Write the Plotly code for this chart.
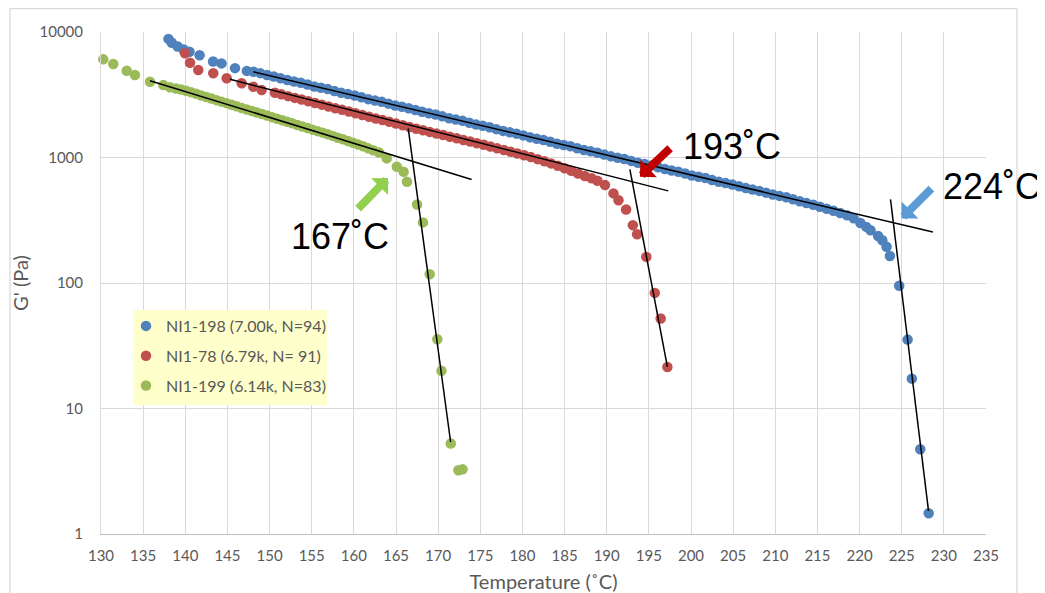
import numpy as np
import plotly.graph_objects as go

# ---------------- data (G' stored as log10 values) ----------------
blue_name = "NI1-198 (7.00k, N=94)"
red_name = "NI1-78 (6.79k, N= 91)"
green_name = "NI1-199 (6.14k, N=83)"

blue_temp = [138.0, 138.4, 139.1, 139.8, 140.5, 141.7, 143.3, 144.3, 145.9, 147.3,
             148.1, 148.9, 149.7, 150.5, 151.3, 152.1, 152.9, 153.7, 154.5, 155.3,
             156.1, 156.9, 157.7, 158.5, 159.3, 160.1, 160.9, 161.7, 162.5, 163.3,
             164.1, 164.9, 165.7, 166.5, 167.3, 168.1, 168.9, 169.7, 170.5, 171.3,
             172.1, 172.9, 173.7, 174.5, 175.3, 176.1, 176.9, 177.7, 178.5, 179.3,
             180.1, 180.9, 181.7, 182.5, 183.3, 184.1, 184.9, 185.7, 186.5, 187.3,
             188.1, 188.9, 189.7, 190.5, 191.3, 192.1, 192.9, 193.7, 194.5, 195.3,
             196.1, 196.9, 197.7, 198.5, 199.3, 200.1, 200.9, 201.7, 202.5, 203.3,
             204.1, 204.9, 205.7, 206.5, 207.3, 208.1, 208.9, 209.7, 210.5, 211.3,
             212.1, 212.9, 213.7, 214.5, 215.3, 216.1, 216.9, 217.7, 218.5,
             219.3, 220.1, 220.8, 221.3, 222.2, 222.7, 223.2, 223.6, 224.7, 225.7,
             226.2, 227.2, 228.2]
blue_logG = [3.945, 3.915, 3.885, 3.860, 3.843, 3.815, 3.765, 3.750, 3.712, 3.690,
             3.683, 3.672, 3.657, 3.645, 3.632, 3.617, 3.606, 3.596, 3.581, 3.566,
             3.556, 3.545, 3.530, 3.516, 3.505, 3.494, 3.480, 3.465, 3.454, 3.444,
             3.429, 3.414, 3.404, 3.393, 3.378, 3.364, 3.353, 3.342, 3.328, 3.313,
             3.302, 3.292, 3.277, 3.262, 3.252, 3.241, 3.226, 3.212, 3.201, 3.190,
             3.176, 3.161, 3.150, 3.140, 3.125, 3.110, 3.100, 3.089, 3.074, 3.060,
             3.049, 3.038, 3.024, 3.009, 2.998, 2.988, 2.973, 2.958, 2.948, 2.937,
             2.922, 2.908, 2.897, 2.886, 2.872, 2.857, 2.846, 2.836, 2.821, 2.806,
             2.796, 2.785, 2.770, 2.756, 2.745, 2.734, 2.720, 2.705, 2.694, 2.683,
             2.668, 2.652, 2.638, 2.623, 2.607, 2.592, 2.576, 2.558, 2.540,
             2.515, 2.478, 2.447, 2.420, 2.375, 2.340, 2.289, 2.215, 1.978, 1.549,
             1.238, 0.675, 0.165]

red_temp = [139.96, 140.56, 141.54, 143.32, 144.91, 146.69, 148.07, 149.06, 150.64,
            151.4, 152.2, 153.0, 153.8, 154.6, 155.4, 156.2, 157.0, 157.8, 158.6,
            159.4, 160.2, 161.0, 161.8, 162.6, 163.4, 164.2, 165.0, 165.8, 166.6,
            167.4, 168.2, 169.0, 169.8, 170.6, 171.4, 172.2, 173.0, 173.8, 174.6,
            175.4, 176.2, 177.0, 177.8, 178.6, 179.4, 180.2, 181.0, 181.8, 182.6,
            183.4, 184.2, 185.0, 185.8, 186.6, 187.4,
            188.2, 188.9, 189.8, 190.8, 191.4, 192.3, 193.1, 193.6, 194.7, 195.7,
            196.4, 197.2]
red_logG = [3.830, 3.755, 3.697, 3.671, 3.631, 3.591, 3.564, 3.537, 3.516,
            3.503, 3.489, 3.475, 3.462, 3.448, 3.434, 3.421, 3.407, 3.393, 3.380,
            3.366, 3.352, 3.339, 3.325, 3.311, 3.298, 3.284, 3.270, 3.257, 3.243,
            3.229, 3.217, 3.204, 3.191, 3.179, 3.166, 3.153, 3.140, 3.127, 3.114,
            3.101, 3.087, 3.073, 3.060, 3.046, 3.032, 3.018, 3.003, 2.987, 2.970,
            2.953, 2.934, 2.914, 2.894, 2.873, 2.853,
            2.835, 2.815, 2.780, 2.714, 2.660, 2.586, 2.461, 2.389, 2.208, 1.921,
            1.717, 1.331]

green_temp = [130.27, 131.46, 133.05, 134.03, 135.81, 137.39, 138.18,
              138.9, 139.5, 140.1, 140.7, 141.3, 141.9, 142.5, 143.1, 143.7, 144.3,
              144.9, 145.5, 146.1, 146.7, 147.3, 147.9, 148.5, 149.1, 149.7, 150.3,
              150.9, 151.5, 152.1, 152.7, 153.3, 153.9, 154.5, 155.1, 155.7, 156.3,
              156.9, 157.5, 158.1, 158.7, 159.3, 159.9, 160.5, 161.1, 161.7, 162.3,
              163.0, 163.9, 165.1, 165.9, 166.3, 167.5, 168.2, 169.0, 169.9, 170.4,
              171.5, 172.4, 172.9]
green_logG = [3.782, 3.745, 3.691, 3.657, 3.604, 3.577, 3.560,
              3.550, 3.542, 3.531, 3.519, 3.507, 3.494, 3.482, 3.470, 3.457, 3.445,
              3.433, 3.420, 3.408, 3.395, 3.383, 3.371, 3.358, 3.346, 3.334, 3.321,
              3.309, 3.297, 3.284, 3.272, 3.259, 3.247, 3.235, 3.222, 3.210, 3.198,
              3.185, 3.172, 3.158, 3.145, 3.132, 3.118, 3.104, 3.089, 3.073, 3.058,
              3.040, 2.993, 2.926, 2.886, 2.807, 2.626, 2.483, 2.070, 1.552, 1.300,
              0.721, 0.508, 0.515]

# tangent (onset) construction lines: [start, end]
blue_flat_T, blue_flat_logG = [148.07, 228.7], [3.683, 2.407]
blue_steep_T, blue_steep_logG = [223.67, 228.18], [2.666, 0.183]
red_flat_T, red_flat_logG = [145.3, 197.3], [3.623, 2.734]
red_steep_T, red_steep_logG = [192.75, 197.2], [2.905, 1.331]
green_flat_T, green_flat_logG = [135.81, 173.97], [3.612, 2.825]
green_steep_T, green_steep_logG = [166.45, 171.48], [3.232, 0.733]

onset_labels = ["167˚C", "193˚C", "224˚C"]

x_ticks = list(range(130, 236, 5))
y_ticks = [1, 10, 100, 1000, 10000]

# ---------------- figure ----------------
BLUE, RED, GREEN = "#4F81BD", "#C0504D", "#9BBB59"
GRAY_TXT = "#595959"
GRID = "#d9d9d9"
FONT = "Lato"

# the page body adds an 8px offset, so the figure is 8px smaller than the window
W, H = 1037, 585
L, R, T, B = 93, 59, 24, 59
pw, ph = W - L - R, H - T - B
PLOT_LEFT_REF, PLOT_BOTTOM_REF = 101, 534   # plot area position in the reference picture


def px_x(p):
    return (p - PLOT_LEFT_REF) / pw


def px_y(p):
    return (PLOT_BOTTOM_REF - p) / ph


fig = go.Figure()

for name, t, lg, col in [(blue_name, blue_temp, blue_logG, BLUE),
                         (red_name, red_temp, red_logG, RED),
                         (green_name, green_temp, green_logG, GREEN)]:
    fig.add_trace(go.Scatter(
        x=t, y=np.power(10.0, lg), mode="markers", name=name, legendgroup=name,
        marker=dict(color=col, size=10.5, line=dict(width=0)), cliponaxis=False))

for t, lg in [(blue_flat_T, blue_flat_logG), (blue_steep_T, blue_steep_logG),
              (red_flat_T, red_flat_logG), (red_steep_T, red_steep_logG),
              (green_flat_T, green_flat_logG), (green_steep_T, green_steep_logG)]:
    fig.add_trace(go.Scatter(x=t, y=np.power(10.0, lg), mode="lines",
                             line=dict(color="black", width=1.5), showlegend=False,
                             hoverinfo="skip"))

# arrows (tip x,y ; tail ax,ay) in data coords (log10 for y)
arrows = [
    (164.05, 2.836, 160.33, 2.581, "#92D050"),
    (193.94, 2.846, 197.70, 3.085, "#C00000"),
    (224.98, 2.514, 228.69, 2.764, "#5B9BD5"),
]
for x, y, ax, ay, col in arrows:
    fig.add_annotation(x=x, y=y, ax=ax, ay=ay, xref="x", yref="y", axref="x", ayref="y",
                       text="", showarrow=True, arrowhead=1, arrowsize=0.5,
                       arrowwidth=8, arrowcolor=col)

# onset labels, positioned on the paper (the last one sits beyond the x range)
label_px = [(340, 236), (732, 146), (992, 187)]
for (px, py), txt in zip(label_px, onset_labels):
    fig.add_annotation(x=px_x(px), y=px_y(py), xref="paper", yref="paper", text=txt,
                       showarrow=False, xanchor="center", yanchor="middle",
                       font=dict(family="Liberation Sans, Arial", size=36, color="black"))

shapes = [
    # outer chart border
    dict(type="rect", xref="paper", yref="paper", x0=px_x(10), x1=px_x(1017),
         y0=px_y(640), y1=px_y(8.5), line=dict(color=GRID, width=1.3),
         fillcolor="rgba(0,0,0,0)", layer="below"),
    # legend background
    dict(type="rect", xref="paper", yref="paper", x0=px_x(133), x1=px_x(327),
         y0=px_y(405), y1=px_y(310), line=dict(width=0), fillcolor="#FFFFCC",
         layer="above"),
]

fig.update_layout(
    width=W, height=H,
    margin=dict(l=L, r=R, t=T, b=B, autoexpand=False),
    paper_bgcolor="white", plot_bgcolor="white",
    shapes=shapes,
    showlegend=True,
    legend=dict(x=px_x(126), y=px_y(309), xanchor="left", yanchor="top",
                bgcolor="rgba(0,0,0,0)", font=dict(family=FONT, size=16, color=GRAY_TXT),
                tracegroupgap=6, itemwidth=30),
    xaxis=dict(range=[130, 235], tickvals=x_ticks, showgrid=True, gridcolor=GRID,
               gridwidth=1, zeroline=False, showline=True, linecolor="#bfbfbf",
               linewidth=1, ticks="", ticklabelstandoff=8, automargin=False,
               tickfont=dict(family=FONT, size=15, color=GRAY_TXT),
               title=dict(text="Temperature (˚C)", standoff=13,
                          font=dict(family=FONT, size=20, color=GRAY_TXT))),
    yaxis=dict(type="log", range=[0, 4], tickvals=y_ticks,
               ticktext=[str(v) for v in y_ticks], showgrid=True, gridcolor=GRID,
               gridwidth=1, zeroline=False, showline=True, linecolor=GRID,
               ticks="", ticklabelstandoff=14, automargin=False,
               tickfont=dict(family=FONT, size=15, color=GRAY_TXT),
               title=dict(text="G' (Pa)", standoff=6,
                          font=dict(family=FONT, size=20, color=GRAY_TXT))),
)

fig.write_html("out.html")
